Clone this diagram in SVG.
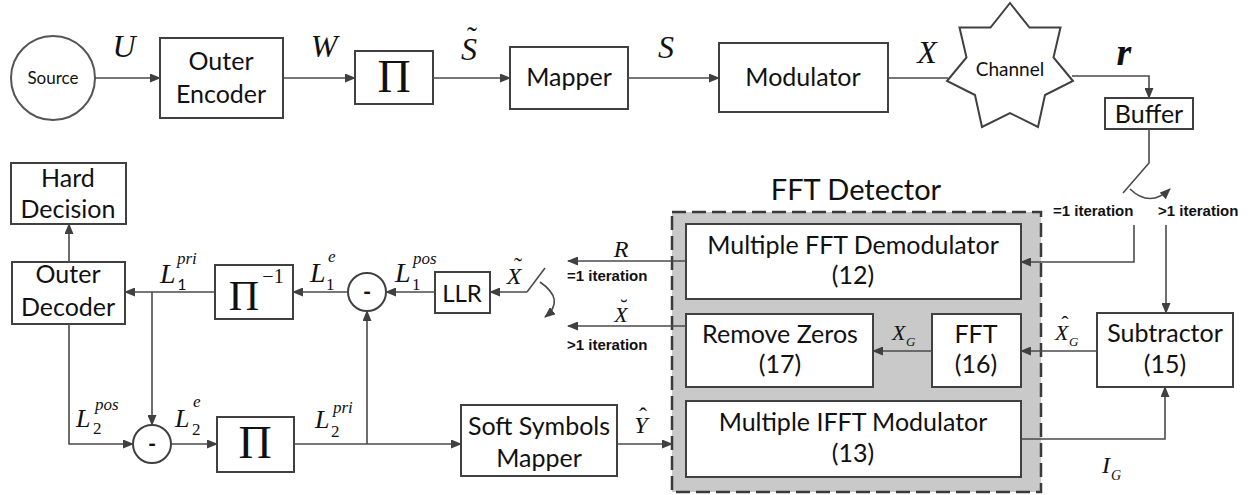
<svg xmlns="http://www.w3.org/2000/svg" width="1255" height="495" viewBox="0 0 1255 495">
  <style>
    .box { fill: #ffffff; stroke: #404040; stroke-width: 2; }
    .ln { fill: none; stroke: #4a4a4a; stroke-width: 1.6; }
    .ar { fill: none; stroke: #4a4a4a; stroke-width: 1.6; marker-end: url(#arr); }
    .t { font-family: Lato, "Liberation Sans", sans-serif; fill: #111; text-anchor: middle; }
    .big { font-size: 25px; }
    .it { font-family: "Liberation Sans", Lato, sans-serif; font-weight: bold; font-size: 15px; fill: #111; }
    .m { font-family: "Liberation Serif", serif; font-style: italic; fill: #111; }
    .up { font-family: "Liberation Serif", serif; fill: #111; }
    .acc { font-family: "Liberation Serif", serif; fill: #111; text-anchor: middle; }
  </style>
  <defs>
    <marker id="arr" markerUnits="userSpaceOnUse" markerWidth="11" markerHeight="9" refX="10" refY="4.5" orient="auto">
      <path d="M0,0 L11,4.5 L0,9 Z" fill="#404040"/>
    </marker>
  </defs>

  <!-- detector enclosure -->
  <g id="fft-detector">
    <rect x="672" y="212" width="369" height="280" fill="#c9c9c9" stroke="#3a3a3a" stroke-width="2.5" stroke-dasharray="14 6"/>
    <text class="t" x="856" y="200" font-size="29">FFT Detector</text>
  </g>

  <!-- transmitter chain -->
  <g id="source">
    <circle cx="53" cy="78" r="42" fill="#fff" stroke="#555" stroke-width="2"/>
    <text class="t" x="53" y="84" font-size="17">Source</text>
  </g>
  <g id="outer-encoder">
    <rect class="box" x="160" y="38" width="123" height="80"/>
    <text class="t big" x="221" y="70">Outer</text>
    <text class="t big" x="221" y="103">Encoder</text>
  </g>
  <g id="interleaver">
    <rect class="box" x="355" y="51" width="78" height="53"/>
    <text class="up" x="394" y="92" font-size="46" text-anchor="middle">Π</text>
  </g>
  <g id="mapper">
    <rect class="box" x="510" y="47" width="118" height="62"/>
    <text class="t big" x="569" y="86">Mapper</text>
  </g>
  <g id="modulator">
    <rect class="box" x="719" y="43" width="169" height="69"/>
    <text class="t big" x="803" y="86">Modulator</text>
  </g>
  <g id="channel">
    <polygon fill="#fff" stroke="#404040" stroke-width="2" points="1010,3 1029.5,27.5 1060.5,27.5 1053.5,57.5 1073,81 1045,95 1038,127 1010,113 982,127 975,95 947,81 966.5,57.5 959.5,27.5 990.5,27.5"/>
    <text class="t" x="1010" y="76" font-size="19">Channel</text>
  </g>
  <g id="buffer">
    <rect class="box" x="1105" y="98" width="88" height="31"/>
    <text class="t big" x="1149" y="123">Buffer</text>
  </g>

  <!-- receiver blocks -->
  <g id="hard-decision">
    <rect class="box" x="11" y="163" width="115" height="61"/>
    <text class="t big" x="68" y="187">Hard</text>
    <text class="t big" x="68" y="218">Decision</text>
  </g>
  <g id="outer-decoder">
    <rect class="box" x="12" y="262" width="113" height="62"/>
    <text class="t big" x="68" y="283">Outer</text>
    <text class="t big" x="68" y="316">Decoder</text>
  </g>
  <g id="deinterleaver">
    <rect class="box" x="215" y="265" width="78" height="54"/>
    <text class="up" x="244" y="310" font-size="42" text-anchor="middle">Π</text>
    <text class="up" x="273" y="283" font-size="20" text-anchor="middle">−1</text>
  </g>
  <g id="sub-1">
    <circle cx="367" cy="292" r="19" fill="#fff" stroke="#404040" stroke-width="2"/>
    <text class="t" x="367" y="300" font-size="22" font-weight="bold">-</text>
  </g>
  <g id="llr">
    <rect class="box" x="435" y="272" width="55" height="41"/>
    <text class="t" x="462" y="302" font-size="24">LLR</text>
  </g>
  <g id="sub-2">
    <circle cx="152" cy="444" r="19" fill="#fff" stroke="#404040" stroke-width="2"/>
    <text class="t" x="152" y="452" font-size="22" font-weight="bold">-</text>
  </g>
  <g id="interleaver-2">
    <rect class="box" x="217" y="417" width="77" height="55"/>
    <text class="up" x="255" y="458" font-size="46" text-anchor="middle">Π</text>
  </g>
  <g id="soft-mapper">
    <rect class="box" x="461" y="405" width="156" height="71"/>
    <text class="t big" x="539" y="435">Soft Symbols</text>
    <text class="t big" x="539" y="467">Mapper</text>
  </g>
  <g id="fft-demod">
    <rect class="box" x="686" y="224" width="335" height="75"/>
    <text class="t big" x="853" y="254">Multiple FFT Demodulator</text>
    <text class="t big" x="853" y="284">(12)</text>
  </g>
  <g id="remove-zeros">
    <rect class="box" x="686" y="314" width="187" height="73"/>
    <text class="t big" x="780" y="343">Remove Zeros</text>
    <text class="t big" x="780" y="373">(17)</text>
  </g>
  <g id="fft">
    <rect class="box" x="932" y="314" width="89" height="73"/>
    <text class="t big" x="976" y="343">FFT</text>
    <text class="t big" x="976" y="373">(16)</text>
  </g>
  <g id="ifft-mod">
    <rect class="box" x="686" y="401" width="335" height="76"/>
    <text class="t big" x="853" y="431">Multiple IFFT Modulator</text>
    <text class="t big" x="853" y="462">(13)</text>
  </g>
  <g id="subtractor">
    <rect class="box" x="1097" y="313" width="136" height="74"/>
    <text class="t big" x="1165" y="342">Subtractor</text>
    <text class="t big" x="1165" y="373">(15)</text>
  </g>

  <!-- connectors -->
  <g id="connectors">
    <path class="ar" d="M95,78 H160"/>
    <path class="ar" d="M283,78 H355"/>
    <path class="ar" d="M433,78 H510"/>
    <path class="ar" d="M628,78 H719"/>
    <path class="ln" d="M888,78 H948"/>
    <path class="ar" d="M1072,76 H1149 V98"/>
    <path class="ln" d="M1149,129 V163 L1123,193"/>
    <path class="ar" d="M1130,189 Q1150,208 1170,189"/>
    <path class="ar" d="M1134,225 V262 H1021"/>
    <path class="ar" d="M1166,225 V313"/>
    <path class="ar" d="M1097,351 H1021"/>
    <path class="ar" d="M1021,439 H1165 V387"/>
    <path class="ar" d="M932,351 H873"/>
    <path class="ar" d="M686,261 H568"/>
    <path class="ar" d="M686,326 H568"/>
    <path class="ln" d="M545,268 L527,292"/>
    <path class="ar" d="M527,292 H490"/>
    <path class="ar" d="M540,282 Q566,300 545,317"/>
    <path class="ar" d="M435,292 H386"/>
    <path class="ar" d="M348,292 H293"/>
    <path class="ar" d="M215,292 H125"/>
    <path class="ar" d="M152,292 V425"/>
    <path class="ar" d="M69,262 V224"/>
    <path class="ar" d="M69,324 V444 H133"/>
    <path class="ar" d="M171,444 H217"/>
    <path class="ar" d="M294,444 H461"/>
    <path class="ar" d="M367,444 V311"/>
    <path class="ar" d="M617,444 H672"/>
  </g>

  <!-- signal labels -->
  <g id="labels">
    <text class="m" x="124" y="57" font-size="32" text-anchor="middle">U</text>
    <text class="m" x="324" y="57" font-size="32" text-anchor="middle">W</text>
    <text class="m" x="469" y="60" font-size="32" text-anchor="middle">S</text>
    <text class="acc" x="472" y="47" font-size="30">˜</text>
    <text class="m" x="666" y="58" font-size="32" text-anchor="middle">S</text>
    <text class="m" x="927" y="63" font-size="32" text-anchor="middle">X</text>
    <text class="m" x="1124" y="65" font-size="38" font-weight="bold" text-anchor="middle">r</text>

    <text class="it" x="1053" y="216">=1 iteration</text>
    <text class="it" x="1158" y="216">&gt;1 iteration</text>
    <text class="it" x="567" y="281">=1 iteration</text>
    <text class="it" x="567" y="350">&gt;1 iteration</text>

    <text class="m" x="621" y="257" font-size="24" text-anchor="middle">R</text>
    <text class="m" x="621" y="322" font-size="22" text-anchor="middle">X</text>
    <text class="acc" x="624" y="314" font-size="22">˘</text>
    <text class="m" x="514" y="284" font-size="24" text-anchor="middle">X</text>
    <text class="acc" x="518" y="274" font-size="24">˜</text>
    <text class="m" x="641" y="433" font-size="24" text-anchor="middle">Y</text>
    <text class="acc" x="643" y="424" font-size="24">ˆ</text>

    <text class="m" x="892" y="340" font-size="22">X</text>
    <text class="m" x="906" y="346" font-size="13">G</text>
    <text class="m" x="1055" y="340" font-size="22">X</text>
    <text class="acc" x="1065" y="331" font-size="22">ˆ</text>
    <text class="m" x="1069" y="346" font-size="13">G</text>
    <text class="m" x="1102" y="473" font-size="24">I</text>
    <text class="m" x="1111" y="480" font-size="14">G</text>

    <text class="m" x="160" y="283" font-size="28">L</text>
    <text class="m" x="177" y="264" font-size="17">pri</text>
    <text class="t" x="182" y="290" font-size="16">1</text>

    <text class="m" x="310" y="282" font-size="28">L</text>
    <text class="m" x="328" y="262" font-size="17">e</text>
    <text class="up" x="326" y="290" font-size="17">1</text>

    <text class="m" x="395" y="282" font-size="28">L</text>
    <text class="m" x="413" y="264" font-size="17">pos</text>
    <text class="up" x="412" y="290" font-size="17">1</text>

    <text class="m" x="76" y="427" font-size="26">L</text>
    <text class="m" x="95" y="410" font-size="17">pos</text>
    <text class="up" x="93" y="434" font-size="17">2</text>

    <text class="m" x="175" y="427" font-size="26">L</text>
    <text class="m" x="193" y="407" font-size="17">e</text>
    <text class="up" x="192" y="435" font-size="17">2</text>

    <text class="m" x="315" y="428" font-size="26">L</text>
    <text class="m" x="333" y="413" font-size="17">pri</text>
    <text class="up" x="331" y="437" font-size="17">2</text>
  </g>
</svg>
